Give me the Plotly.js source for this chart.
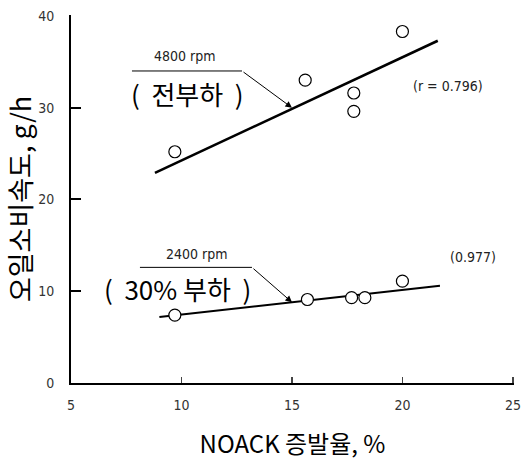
<!DOCTYPE html>
<html><head><meta charset="utf-8">
<script src="https://cdn.plot.ly/plotly-3.0.1.min.js"></script>
<style>html,body{margin:0;padding:0;background:#fff}#c{width:527px;height:460px}</style>
</head><body><div id="c"></div>
<script>
const noack4800 = [9.7, 15.6, 17.8, 17.8, 20.0];
const oil4800 = [25.2, 33.0, 31.6, 29.6, 38.3];
const noack2400 = [9.7, 15.7, 17.7, 18.3, 20.0];
const oil2400 = [7.4, 9.1, 9.3, 9.3, 11.1];
const fit4800X = [8.8, 21.6];
const fit4800Y = [22.9, 37.3];
const fit2400X = [9.0, 21.7];
const fit2400Y = [7.2, 10.6];
const xTicks = [5, 10, 15, 20, 25];
const yTicks = [0, 10, 20, 30, 40];

const fontK = '"Noto Sans CJK KR", "Noto Sans", sans-serif';
const fontT = '"DejaVu Sans Condensed", "DejaVu Sans", sans-serif';

const traces = [
  {x: fit4800X, y: fit4800Y, mode: 'lines', line: {color: '#000', width: 2.6}, hoverinfo: 'skip'},
  {x: fit2400X, y: fit2400Y, mode: 'lines', line: {color: '#000', width: 2}, hoverinfo: 'skip'},
  {x: noack4800, y: oil4800, mode: 'markers', marker: {symbol: 'circle', size: 12, color: '#fff', line: {color: '#000', width: 1.2}}},
  {x: noack2400, y: oil2400, mode: 'markers', marker: {symbol: 'circle', size: 12, color: '#fff', line: {color: '#000', width: 1.2}}}
];

const small = {family: fontT, size: 14, color: '#222'};
const big = {family: fontK, size: 26, color: '#000'};

const layout = {
  width: 527, height: 460,
  margin: {l: 71, r: 13, t: 15, b: 77},
  paper_bgcolor: '#fff', plot_bgcolor: '#fff',
  showlegend: false,
  xaxis: {
    range: [5, 25.05], tickvals: xTicks, ticktext: xTicks.map(String),
    showgrid: false, zeroline: false, showline: true, linecolor: '#000', linewidth: 2,
    ticks: 'inside', ticklen: 6, tickwidth: 1.2, tickcolor: '#444',
    tickfont: {family: fontT, size: 14, color: '#333'}, ticklabelstandoff: 8,
    title: {text: 'NOACK 증발율, %', font: {family: fontK, size: 24, color: '#000'}, standoff: 28}
  },
  yaxis: {
    range: [0, 40.1], tickvals: yTicks, ticktext: yTicks.map(String),
    showgrid: false, zeroline: false, showline: true, linecolor: '#000', linewidth: 2,
    ticks: 'inside', ticklen: 10, tickwidth: 2, tickcolor: '#000',
    tickfont: {family: fontT, size: 14, color: '#333'}, ticklabelstandoff: 12,
    title: {text: '오일소비속도, g/h', font: {family: fontK, size: 27, color: '#000'}, standoff: 0}
  },
  shapes: [
    {type: 'line', xref: 'x', yref: 'y', x0: 7.76, y0: 34.0, x1: 12.74, y1: 34.0, line: {color: '#000', width: 1}},
    {type: 'line', xref: 'x', yref: 'y', x0: 8.12, y0: 12.6, x1: 13.19, y1: 12.6, line: {color: '#000', width: 1}}
  ],
  annotations: [
    {x: 15.0, y: 30.0, ax: 12.74, ay: 34.0, axref: 'x', ayref: 'y', xref: 'x', yref: 'y', text: '', showarrow: true, arrowhead: 2, arrowsize: 1.3, arrowwidth: 1, arrowcolor: '#000'},
    {x: 15.0, y: 8.8, ax: 13.19, ay: 12.6, axref: 'x', ayref: 'y', xref: 'x', yref: 'y', text: '', showarrow: true, arrowhead: 2, arrowsize: 1.3, arrowwidth: 1, arrowcolor: '#000'},
    {x: 10.16, y: 35.6, xref: 'x', yref: 'y', text: '4800 rpm', showarrow: false, font: small},
    {x: 10.25, y: 31.6, xref: 'x', yref: 'y', text: '(  전부하  )', showarrow: false, font: big},
    {x: 22.06, y: 32.4, xref: 'x', yref: 'y', text: '(r = 0.796)', showarrow: false, font: small},
    {x: 10.7, y: 14.1, xref: 'x', yref: 'y', text: '2400 rpm', showarrow: false, font: small},
    {x: 9.8, y: 10.35, xref: 'x', yref: 'y', text: '(  30% 부하  )', showarrow: false, font: big},
    {x: 23.2, y: 13.7, xref: 'x', yref: 'y', text: '(0.977)', showarrow: false, font: small}
  ]
};

Plotly.newPlot('c', traces, layout, {displayModeBar: false, staticPlot: true});
</script>
</body></html>
